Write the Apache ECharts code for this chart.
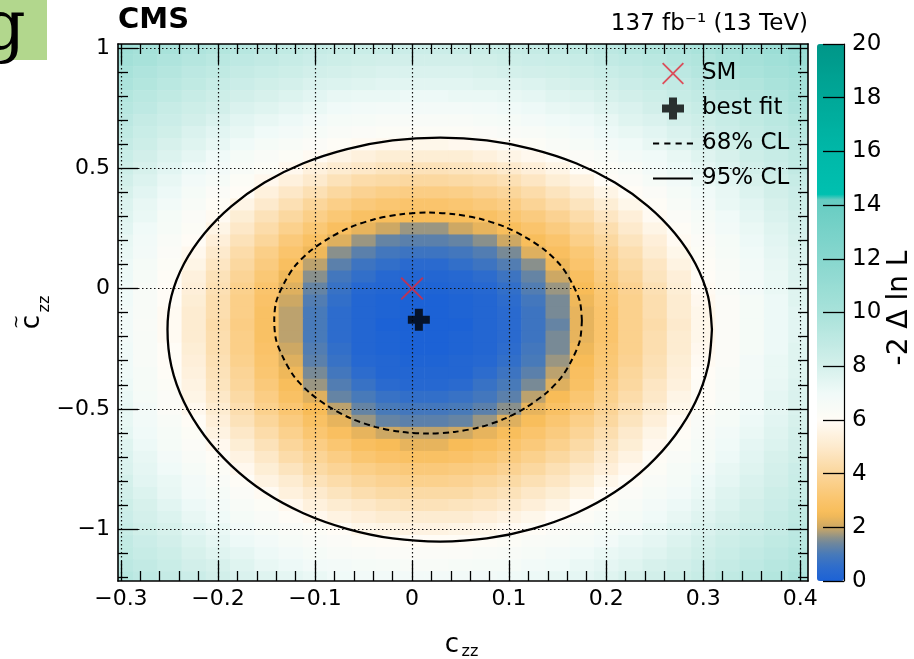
<!DOCTYPE html>
<html><head><meta charset="utf-8">
<script src="https://cdn.jsdelivr.net/npm/echarts@6/dist/echarts.min.js"></script>
<style>html,body{margin:0;padding:0;background:#fff}#c{width:914px;height:659px}</style>
</head><body><div id="c"></div>
<script>
// ---------- data ----------
const xCenters = [-0.300,-0.275,-0.250,-0.225,-0.200,-0.175,-0.150,-0.125,-0.100,-0.075,-0.050,-0.025,0.000,0.025,0.050,0.075,0.100,0.125,0.150,0.175,0.200,0.225,0.250,0.275,0.300,0.325,0.350,0.375,0.400];
const yCenters = [1.00,0.95,0.90,0.85,0.80,0.75,0.70,0.65,0.60,0.55,0.50,0.45,0.40,0.35,0.30,0.25,0.20,0.15,0.10,0.05,0.00,-0.05,-0.10,-0.15,-0.20,-0.25,-0.30,-0.35,-0.40,-0.45,-0.50,-0.55,-0.60,-0.65,-0.70,-0.75,-0.80,-0.85,-0.90,-0.95,-1.00,-1.05,-1.10,-1.15,-1.20];
// -2 Delta ln L, one row per yCenters entry, one column per xCenters entry
const zRows = [
[10.5,10.2,10.0,9.7,9.5,9.3,9.1,8.9,8.7,8.6,8.5,8.5,8.4,8.4,8.5,8.5,8.6,8.7,8.8,8.9,9.1,9.3,9.5,9.7,9.9,10.1,10.4,10.7,10.9],
[10.3,10.0,9.7,9.4,9.2,9.0,8.8,8.6,8.4,8.3,8.2,8.1,8.1,8.1,8.1,8.2,8.3,8.4,8.5,8.6,8.8,9.0,9.2,9.4,9.6,9.9,10.1,10.4,10.7],
[10.0,9.7,9.4,9.1,8.9,8.7,8.5,8.3,8.1,8.0,7.9,7.8,7.8,7.8,7.8,7.9,8.0,8.1,8.2,8.3,8.5,8.7,8.9,9.1,9.4,9.6,9.9,10.2,10.4],
[9.8,9.5,9.2,8.9,8.6,8.4,8.2,8.0,7.8,7.7,7.6,7.5,7.5,7.5,7.5,7.6,7.6,7.7,7.9,8.0,8.2,8.4,8.6,8.8,9.1,9.4,9.6,9.9,10.2],
[9.5,9.2,8.9,8.6,8.3,8.1,7.9,7.7,7.5,7.3,7.2,7.2,7.1,7.1,7.2,7.2,7.3,7.4,7.6,7.7,7.9,8.1,8.3,8.6,8.8,9.1,9.4,9.7,10.0],
[9.3,9.0,8.6,8.3,8.1,7.8,7.6,7.4,7.2,7.0,6.9,6.8,6.8,6.8,6.8,6.9,7.0,7.1,7.3,7.4,7.6,7.8,8.1,8.3,8.6,8.9,9.1,9.4,9.8],
[9.1,8.7,8.4,8.1,7.8,7.5,7.3,7.1,6.9,6.7,6.6,6.5,6.5,6.5,6.5,6.6,6.7,6.8,7.0,7.1,7.3,7.6,7.8,8.1,8.3,8.6,8.9,9.2,9.5],
[8.9,8.5,8.2,7.8,7.5,7.3,7.0,6.8,6.6,6.4,6.3,6.2,6.2,6.2,6.2,6.3,6.4,6.5,6.7,6.8,7.1,7.3,7.5,7.8,8.1,8.4,8.7,9.0,9.3],
[8.7,8.3,7.9,7.6,7.3,7.0,6.7,6.5,6.3,6.1,5.9,5.8,5.7,5.7,5.8,5.9,6.1,6.2,6.4,6.6,6.8,7.0,7.3,7.6,7.9,8.2,8.5,8.8,9.1],
[8.5,8.1,7.7,7.4,7.0,6.7,6.4,6.2,5.9,5.6,5.4,5.2,5.2,5.2,5.2,5.4,5.6,5.8,6.1,6.3,6.5,6.8,7.0,7.3,7.6,7.9,8.3,8.6,8.9],
[8.3,7.9,7.5,7.1,6.8,6.5,6.2,5.8,5.4,5.1,4.9,4.7,4.6,4.6,4.7,4.8,5.0,5.3,5.6,6.0,6.2,6.5,6.8,7.1,7.4,7.7,8.1,8.4,8.8],
[8.1,7.7,7.3,6.9,6.6,6.2,5.8,5.4,5.0,4.6,4.3,4.2,4.1,4.1,4.2,4.3,4.5,4.8,5.2,5.5,6.0,6.3,6.6,6.9,7.2,7.5,7.9,8.2,8.6],
[7.9,7.5,7.1,6.7,6.3,6.0,5.4,4.9,4.5,4.1,3.8,3.6,3.5,3.5,3.6,3.8,4.0,4.3,4.7,5.1,5.6,6.0,6.3,6.7,7.0,7.3,7.7,8.1,8.4],
[7.7,7.3,6.9,6.5,6.1,5.6,5.0,4.5,4.0,3.6,3.3,3.1,3.0,3.0,3.1,3.3,3.5,3.9,4.3,4.7,5.2,5.7,6.1,6.5,6.8,7.2,7.5,7.9,8.3],
[7.6,7.2,6.7,6.3,5.9,5.2,4.6,4.1,3.6,3.2,2.8,2.6,2.5,2.5,2.6,2.8,3.1,3.4,3.8,4.3,4.8,5.3,5.9,6.3,6.6,7.0,7.4,7.8,8.1],
[7.5,7.0,6.6,6.2,5.6,4.9,4.3,3.7,3.2,2.7,2.3,2.0,1.7,1.7,2.0,2.3,2.6,3.0,3.4,3.9,4.4,5.0,5.6,6.1,6.5,6.9,7.2,7.6,8.0],
[7.3,6.9,6.4,6.0,5.3,4.6,4.0,3.3,2.8,2.2,1.7,1.3,1.2,1.2,1.3,1.6,2.0,2.6,3.0,3.6,4.1,4.7,5.3,5.9,6.3,6.7,7.1,7.5,7.9],
[7.2,6.8,6.3,5.8,5.0,4.3,3.6,3.0,2.4,1.6,1.2,0.9,0.8,0.8,0.9,1.1,1.5,2.2,2.7,3.2,3.8,4.4,5.1,5.7,6.2,6.6,7.0,7.4,7.8],
[7.1,6.7,6.2,5.6,4.8,4.1,3.4,2.7,1.9,1.2,0.8,0.6,0.4,0.4,0.6,0.8,1.1,1.6,2.4,3.0,3.6,4.2,4.8,5.5,6.1,6.5,6.9,7.3,7.7],
[7.1,6.6,6.1,5.4,4.6,3.9,3.2,2.4,1.6,0.9,0.6,0.3,0.2,0.2,0.3,0.5,0.8,1.3,2.0,2.7,3.4,4.0,4.7,5.3,6.0,6.4,6.8,7.2,7.7],
[7.0,6.5,6.0,5.3,4.5,3.7,3.0,2.2,1.3,0.7,0.3,0.2,0.1,0.1,0.2,0.3,0.6,1.1,1.7,2.5,3.2,3.8,4.5,5.2,5.9,6.4,6.8,7.2,7.6],
[7.0,6.5,6.0,5.2,4.4,3.6,2.9,2.0,1.1,0.6,0.2,0.1,0.0,0.0,0.1,0.2,0.5,0.9,1.5,2.4,3.1,3.7,4.4,5.1,5.8,6.3,6.7,7.1,7.6],
[6.9,6.5,5.9,5.1,4.4,3.6,2.8,1.9,1.0,0.5,0.2,0.1,0.0,0.0,0.1,0.2,0.4,0.8,1.5,2.3,3.0,3.7,4.4,5.1,5.7,6.3,6.7,7.1,7.5],
[6.9,6.4,5.9,5.1,4.3,3.5,2.8,1.9,1.0,0.5,0.2,0.0,0.0,0.0,0.0,0.2,0.4,0.8,1.3,2.3,3.0,3.7,4.3,5.0,5.7,6.3,6.7,7.1,7.5],
[6.9,6.5,5.9,5.1,4.4,3.6,2.8,1.9,1.0,0.5,0.2,0.1,0.0,0.0,0.1,0.2,0.4,0.8,1.5,2.3,3.0,3.7,4.4,5.1,5.7,6.3,6.7,7.1,7.5],
[7.0,6.5,6.0,5.2,4.4,3.6,2.9,2.0,1.1,0.6,0.2,0.1,0.0,0.0,0.1,0.2,0.5,0.9,1.5,2.4,3.1,3.7,4.4,5.1,5.8,6.3,6.7,7.1,7.6],
[7.0,6.5,6.0,5.3,4.5,3.7,3.0,2.2,1.2,0.7,0.3,0.2,0.1,0.1,0.2,0.3,0.6,1.0,1.7,2.5,3.2,3.8,4.5,5.2,5.9,6.3,6.8,7.2,7.6],
[7.0,6.6,6.1,5.4,4.6,3.9,3.1,2.4,1.5,0.9,0.5,0.2,0.2,0.2,0.2,0.5,0.8,1.2,1.9,2.7,3.3,4.0,4.6,5.3,6.0,6.4,6.8,7.2,7.6],
[7.1,6.6,6.2,5.5,4.7,4.0,3.3,2.6,1.7,1.1,0.7,0.4,0.3,0.3,0.4,0.7,1.0,1.5,2.2,2.8,3.5,4.1,4.8,5.4,6.1,6.5,6.9,7.3,7.7],
[7.2,6.7,6.3,5.6,4.9,4.2,3.5,2.8,2.2,1.3,1.0,0.7,0.6,0.6,0.7,0.9,1.2,1.9,2.5,3.1,3.7,4.3,4.9,5.6,6.1,6.5,6.9,7.4,7.8],
[7.3,6.8,6.3,5.8,5.1,4.4,3.7,3.1,2.5,1.9,1.3,1.0,0.9,0.9,1.0,1.2,1.6,2.3,2.8,3.3,3.9,4.5,5.1,5.7,6.2,6.6,7.0,7.4,7.8],
[7.3,6.9,6.5,6.0,5.3,4.6,4.0,3.4,2.8,2.3,1.7,1.3,1.2,1.2,1.3,1.7,2.2,2.6,3.1,3.6,4.1,4.7,5.3,5.9,6.4,6.7,7.1,7.5,7.9],
[7.4,7.0,6.6,6.2,5.5,4.9,4.3,3.7,3.1,2.7,2.3,2.0,1.9,1.9,2.0,2.3,2.6,3.0,3.4,3.9,4.4,5.0,5.6,6.1,6.5,6.9,7.2,7.6,8.0],
[7.6,7.1,6.7,6.3,5.8,5.2,4.6,4.0,3.5,3.1,2.7,2.5,2.3,2.3,2.5,2.7,3.0,3.3,3.7,4.2,4.7,5.2,5.8,6.2,6.6,7.0,7.4,7.7,8.1],
[7.7,7.3,6.8,6.4,6.1,5.5,4.9,4.3,3.9,3.5,3.1,2.9,2.8,2.8,2.9,3.1,3.4,3.7,4.1,4.5,5.0,5.5,6.1,6.4,6.7,7.1,7.5,7.9,8.2],
[7.8,7.4,7.0,6.6,6.2,5.8,5.2,4.7,4.2,3.9,3.6,3.4,3.3,3.3,3.4,3.5,3.8,4.1,4.5,4.9,5.3,5.8,6.2,6.6,6.9,7.3,7.6,8.0,8.4],
[8.0,7.5,7.2,6.8,6.4,6.1,5.5,5.1,4.6,4.3,4.0,3.8,3.7,3.7,3.8,4.0,4.2,4.5,4.8,5.2,5.7,6.1,6.4,6.7,7.1,7.4,7.8,8.1,8.5],
[8.1,7.7,7.3,6.9,6.6,6.3,5.9,5.4,5.0,4.7,4.4,4.2,4.2,4.2,4.2,4.4,4.6,4.9,5.2,5.6,6.0,6.3,6.6,6.9,7.2,7.6,7.9,8.3,8.6],
[8.3,7.9,7.5,7.1,6.8,6.5,6.2,5.8,5.4,5.1,4.9,4.7,4.6,4.6,4.7,4.8,5.0,5.3,5.6,6.0,6.2,6.5,6.8,7.1,7.4,7.7,8.1,8.4,8.8],
[8.4,8.0,7.7,7.3,7.0,6.7,6.4,6.1,5.8,5.5,5.3,5.1,5.1,5.1,5.1,5.3,5.5,5.7,6.0,6.2,6.5,6.7,7.0,7.3,7.6,7.9,8.2,8.6,8.9],
[8.6,8.2,7.9,7.5,7.2,6.9,6.6,6.4,6.2,6.0,5.7,5.6,5.5,5.5,5.6,5.7,5.9,6.1,6.3,6.5,6.7,6.9,7.2,7.5,7.8,8.1,8.4,8.7,9.1],
[8.8,8.4,8.1,7.7,7.4,7.1,6.9,6.6,6.4,6.3,6.1,6.0,6.0,6.0,6.0,6.1,6.2,6.4,6.5,6.7,6.9,7.2,7.4,7.7,8.0,8.3,8.6,8.9,9.2],
[8.9,8.6,8.3,7.9,7.6,7.4,7.1,6.9,6.7,6.5,6.4,6.3,6.3,6.3,6.3,6.4,6.5,6.6,6.8,7.0,7.2,7.4,7.6,7.9,8.2,8.5,8.8,9.1,9.4],
[9.1,8.8,8.5,8.1,7.9,7.6,7.3,7.1,6.9,6.8,6.7,6.6,6.5,6.5,6.6,6.7,6.7,6.9,7.0,7.2,7.4,7.6,7.9,8.1,8.4,8.7,9.0,9.3,9.6],
[9.3,9.0,8.7,8.4,8.1,7.8,7.6,7.4,7.2,7.0,6.9,6.9,6.8,6.8,6.9,6.9,7.0,7.1,7.3,7.4,7.6,7.9,8.1,8.3,8.6,8.9,9.2,9.5,9.8]
];
const contour68 = [[0.175,-0.133],[0.173,-0.055],[0.165,0.021],[0.154,0.092],[0.138,0.156],[0.118,0.211],[0.096,0.256],[0.071,0.289],[0.044,0.309],[0.017,0.316],[-0.011,0.309],[-0.038,0.289],[-0.063,0.256],[-0.085,0.211],[-0.105,0.156],[-0.121,0.092],[-0.132,0.021],[-0.140,-0.055],[-0.142,-0.133],[-0.140,-0.215],[-0.132,-0.294],[-0.121,-0.368],[-0.105,-0.435],[-0.085,-0.493],[-0.063,-0.540],[-0.038,-0.575],[-0.011,-0.596],[0.017,-0.603],[0.044,-0.596],[0.071,-0.575],[0.096,-0.540],[0.118,-0.493],[0.138,-0.435],[0.154,-0.368],[0.165,-0.294],[0.173,-0.215],[0.175,-0.133]];
const contour95 = [[0.309,-0.170],[0.305,-0.032],[0.292,0.103],[0.271,0.229],[0.243,0.343],[0.209,0.441],[0.169,0.521],[0.124,0.580],[0.077,0.616],[0.029,0.628],[-0.020,0.616],[-0.067,0.580],[-0.112,0.521],[-0.152,0.441],[-0.186,0.343],[-0.214,0.229],[-0.235,0.103],[-0.248,-0.032],[-0.252,-0.170],[-0.248,-0.323],[-0.235,-0.472],[-0.214,-0.611],[-0.186,-0.737],[-0.152,-0.846],[-0.112,-0.934],[-0.067,-0.999],[-0.020,-1.039],[0.029,-1.052],[0.077,-1.039],[0.124,-0.999],[0.169,-0.934],[0.209,-0.846],[0.243,-0.737],[0.271,-0.611],[0.292,-0.472],[0.305,-0.323],[0.309,-0.170]];
const smPoint = [0, 0];
const bestFitPoint = [0.007, -0.13];
const xMajorTicks = [-0.3,-0.2,-0.1,0,0.1,0.2,0.3,0.4];
const xMinorTicks = [-0.28,-0.26,-0.24,-0.22,-0.18,-0.16,-0.14,-0.12,-0.08,-0.06,-0.04,-0.02,0.02,0.04,0.06,0.08,0.12,0.14,0.16,0.18,0.22,0.24,0.26,0.28,0.32,0.34,0.36,0.38];
const yMajorTicks = [-1,-0.5,0,0.5,1];
const yMinorTicks = [-1.2,-1.1,-0.9,-0.8,-0.7,-0.6,-0.4,-0.3,-0.2,-0.1,0.1,0.2,0.3,0.4,0.6,0.7,0.8,0.9];
const zMin = 0, zMax = 20, zStep = 2;

// ---------- styling ----------
const X_MIN = -0.303, X_MAX = 0.408, Y_MIN = -1.216, Y_MAX = 1.017;
const FONT = '"DejaVu Sans", "Liberation Sans", sans-serif';
const paletteStops = [[0,[28,98,214]],[0.5,[45,108,205]],[1,[72,122,185]],[1.5,[120,138,150]],[2,[205,168,100]],[2.5,[248,188,88]],[3,[250,196,108]],[4,[251,214,155]],[5,[253,234,205]],[6,[255,252,246]],[7,[240,250,248]],[8,[212,240,235]],[10,[168,226,218]],[12,[135,215,206]],[14.2,[102,204,194]],[14.3,[0,192,176]],[16,[0,184,168]],[18,[0,168,152]],[20,[0,150,136]]];
function paletteAt(v){
  for (let i=1;i<paletteStops.length;i++){
    const a=paletteStops[i-1], b=paletteStops[i];
    if (v<=b[0]){ const t=(v-a[0])/(b[0]-a[0]); const c=a[1].map((ch,k)=>Math.round(ch+(b[1][k]-ch)*t)); return 'rgb('+c.join(',')+')'; }
  }
  return 'rgb('+paletteStops[paletteStops.length-1][1].join(',')+')';
}
const paletteColors=[]; for(let i=0;i<=200;i++){ paletteColors.push(paletteAt(zMin+(zMax-zMin)*i/200)); }

const cells=[];
yCenters.forEach((y,j)=>{ xCenters.forEach((x,i)=>{ cells.push([x,y,zRows[j][i]]); }); });
const dx = xCenters[1]-xCenters[0];
const dy = yCenters[0]-yCenters[1];

function fmt(v){ const n=Math.round(v*100)/100; if(n===0) return '0'; return (n<0?'\u2212':'')+String(Math.abs(n)); }
const tickLine={color:'#000',width:1.3};
const dotted={color:'#111',width:1.2,type:[1.5,2.5]};
const frameLine={show:true,onZero:false,lineStyle:{color:'#000',width:1.6}};
const noLine={show:false,onZero:false};

const X_PATH='path://M0,1.4L1.4,0L12,10.6L22.6,0L24,1.4L13.4,12L24,22.6L22.6,24L12,13.4L1.4,24L0,22.6L10.6,12Z';
const PLUS_PATH='path://M7,0H15V7H22V15H15V22H7V15H0V7H7Z';
const LINE_ICON='path://M0,0H40V2.2H0Z';
const DASH_ICON='path://M0,0H6V2H0ZM11,0H17V2H11ZM22,0H28V2H22ZM33,0H39V2H33Z';

const chart = echarts.init(document.getElementById('c'), null, {renderer:'canvas'});
chart.setOption({
  animation:false,
  backgroundColor:'#fff',
  grid:[
    {left:118,top:44,width:690,height:537,show:false,outerBoundsMode:'none'},
    {left:817,top:44,width:27,height:537,show:false,outerBoundsMode:'none'}
  ],
  xAxis:[
    {type:'value',gridIndex:0,position:'bottom',min:X_MIN,max:X_MAX,splitNumber:7,z:5,
     axisLine:frameLine,
     axisTick:{show:true,inside:true,length:20,customValues:xMajorTicks,lineStyle:tickLine},
     axisLabel:{show:true,customValues:xMajorTicks,formatter:fmt,fontSize:22,fontFamily:FONT,color:'#000',margin:7},
     splitLine:{show:true,lineStyle:dotted},minorTick:{show:false}},
    {type:'value',gridIndex:0,position:'bottom',min:X_MIN,max:X_MAX,z:5,axisLine:noLine,
     axisTick:{show:true,inside:true,length:10,customValues:xMinorTicks,lineStyle:tickLine},
     axisLabel:{show:false},splitLine:{show:false}},
    {type:'value',gridIndex:0,position:'top',min:X_MIN,max:X_MAX,z:5,axisLine:frameLine,
     axisTick:{show:true,inside:true,length:20,customValues:xMajorTicks,lineStyle:tickLine},
     axisLabel:{show:false},splitLine:{show:false}},
    {type:'value',gridIndex:0,position:'top',min:X_MIN,max:X_MAX,z:5,axisLine:noLine,
     axisTick:{show:true,inside:true,length:10,customValues:xMinorTicks,lineStyle:tickLine},
     axisLabel:{show:false},splitLine:{show:false}},
    {type:'value',gridIndex:1,min:0,max:1,show:false}
  ],
  yAxis:[
    {type:'value',gridIndex:0,position:'left',min:Y_MIN,max:Y_MAX,splitNumber:5,z:5,
     axisLine:frameLine,
     axisTick:{show:true,inside:true,length:20,customValues:yMajorTicks,lineStyle:tickLine},
     axisLabel:{show:true,customValues:yMajorTicks,formatter:fmt,fontSize:22,fontFamily:FONT,color:'#000',margin:8},
     splitLine:{show:true,lineStyle:dotted},minorTick:{show:false}},
    {type:'value',gridIndex:0,position:'left',min:Y_MIN,max:Y_MAX,z:5,axisLine:noLine,
     axisTick:{show:true,inside:true,length:10,customValues:yMinorTicks,lineStyle:tickLine},
     axisLabel:{show:false},splitLine:{show:false}},
    {type:'value',gridIndex:0,position:'right',min:Y_MIN,max:Y_MAX,z:5,axisLine:frameLine,
     axisTick:{show:true,inside:true,length:20,customValues:yMajorTicks,lineStyle:tickLine},
     axisLabel:{show:false},splitLine:{show:false}},
    {type:'value',gridIndex:0,position:'right',min:Y_MIN,max:Y_MAX,z:5,axisLine:noLine,
     axisTick:{show:true,inside:true,length:10,customValues:yMinorTicks,lineStyle:tickLine},
     axisLabel:{show:false},splitLine:{show:false}},
    {type:'value',gridIndex:1,position:'right',min:zMin,max:zMax,interval:zStep,z:5,
     axisLine:{show:true,onZero:false,lineStyle:{color:'#000',width:1.2}},
     axisTick:{show:true,inside:true,length:21,lineStyle:tickLine},
     axisLabel:{show:true,fontSize:23,fontFamily:FONT,color:'#000',margin:8},
     splitLine:{show:false}}
  ],
  visualMap:{type:'continuous',min:zMin,max:zMax,dimension:2,seriesIndex:0,calculable:false,
    orient:'vertical',left:817,top:44,itemWidth:27,itemHeight:537,padding:0,text:null,
    inRange:{color:paletteColors},hoverLink:false},
  legend:{show:true,orient:'vertical',left:653,top:62,padding:0,itemWidth:40,itemHeight:22,itemGap:12,
    selectedMode:false,
    data:[{name:'SM'},{name:'best fit'},{name:'68% CL',icon:DASH_ICON},{name:'95% CL',icon:LINE_ICON}],
    textStyle:{fontFamily:FONT,fontSize:23,color:'#000',padding:[0,0,0,4]}},
  series:[
    {type:'custom',name:'scan',xAxisIndex:0,yAxisIndex:0,z:1,clip:true,silent:true,
     dimensions:['x','y','z'],encode:{x:0,y:1},data:cells,
     renderItem:function(params,api){
       const x=api.value(0), y=api.value(1);
       const p0=api.coord([x-dx/2,y+dy/2]); const p1=api.coord([x+dx/2,y-dy/2]);
       return {type:'rect',shape:{x:p0[0],y:p0[1],width:p1[0]-p0[0]+0.6,height:p1[1]-p0[1]+0.6},style:{fill:api.visual('color')}};
     }},
    {type:'line',name:'95% CL',xAxisIndex:0,yAxisIndex:0,data:contour95,symbol:'none',smooth:0.3,z:6,silent:true,
     itemStyle:{color:'#000'},lineStyle:{color:'#000',width:2.3}},
    {type:'line',name:'68% CL',xAxisIndex:0,yAxisIndex:0,data:contour68,symbol:'none',smooth:0.3,z:6,silent:true,
     itemStyle:{color:'#000'},lineStyle:{color:'#000',width:2,type:[6,4]}},
    {type:'scatter',name:'SM',xAxisIndex:0,yAxisIndex:0,data:[smPoint],symbol:X_PATH,symbolSize:23,z:7,silent:true,
     itemStyle:{color:'#e2283a'}},
    {type:'scatter',name:'best fit',xAxisIndex:0,yAxisIndex:0,data:[bestFitPoint],symbol:PLUS_PATH,symbolSize:22,z:7,silent:true,
     itemStyle:{color:'#000'}}
  ],
  graphic:[
    {type:'rect',left:0,top:0,shape:{x:0,y:0,width:47,height:60},style:{fill:'#b2d78d'},z:10},
    {type:'text',x:-19,y:31,z:11,style:{text:'g',fontSize:70,fontFamily:'"DejaVu Serif", serif',fill:'#000',align:'left',verticalAlign:'middle',textAlign:'left',textVerticalAlign:'middle'}},
    {type:'text',x:118,y:20,z:11,style:{text:'CMS',fontSize:29,fontWeight:'bold',fontFamily:FONT,fill:'#000',align:'left',verticalAlign:'middle',textAlign:'left',textVerticalAlign:'middle'}},
    {type:'text',x:808,y:24,z:11,style:{text:'137 fb\u207B\u00B9 (13 TeV)',fontSize:23,fontFamily:FONT,fill:'#000',align:'right',verticalAlign:'middle',textAlign:'right',textVerticalAlign:'middle'}},
    {type:'text',x:452,y:645,z:11,style:{text:'c',fontSize:26,fontFamily:FONT,fill:'#000',align:'center',verticalAlign:'middle',textAlign:'center',textVerticalAlign:'middle'}},
    {type:'text',x:470,y:652,z:11,style:{text:'zz',fontSize:16,fontFamily:FONT,fill:'#000',align:'center',verticalAlign:'middle',textAlign:'center',textVerticalAlign:'middle'}},
    {type:'text',x:32,y:322,rotation:Math.PI/2,z:11,style:{text:'c',fontSize:26,fontFamily:FONT,fill:'#000',align:'center',verticalAlign:'middle',textAlign:'center',textVerticalAlign:'middle'}},
    {type:'text',x:18,y:322,rotation:Math.PI/2,z:11,style:{text:'~',fontSize:17,fontFamily:FONT,fill:'#000',align:'center',verticalAlign:'middle',textAlign:'center',textVerticalAlign:'middle'}},
    {type:'text',x:45,y:304,rotation:Math.PI/2,z:11,style:{text:'zz',fontSize:16,fontFamily:FONT,fill:'#000',align:'center',verticalAlign:'middle',textAlign:'center',textVerticalAlign:'middle'}},
    {type:'text',x:900,y:308,rotation:Math.PI/2,z:11,style:{text:'-2 \u0394 ln L',fontSize:28,fontFamily:FONT,fill:'#000',align:'center',verticalAlign:'middle',textAlign:'center',textVerticalAlign:'middle'}}
  ]
});
</script>
</body></html>
